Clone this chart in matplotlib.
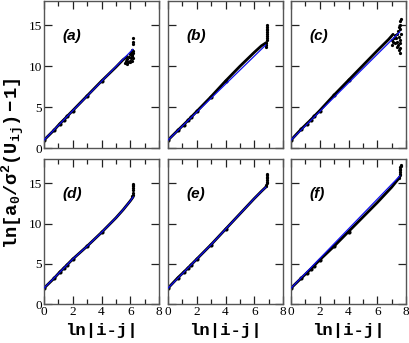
import matplotlib
matplotlib.use("Agg")
import matplotlib.pyplot as plt
from matplotlib.ticker import MultipleLocator

plt.rcParams['mathtext.fontset'] = 'custom'
plt.rcParams['mathtext.rm'] = 'Liberation Mono:bold'
plt.rcParams['mathtext.it'] = 'Liberation Mono:bold'
plt.rcParams['mathtext.bf'] = 'Liberation Mono:bold'

labels = ['(a)', '(b)', '(c)', '(d)', '(e)', '(f)']

# black data (dense points)
data_x = [
    [0, 0.69, 1.10, 1.39, 1.61, 2.0, 3.0, 4.0, 5.0, 5.5, 5.8],
    [0, 0.69, 1.10, 1.39, 1.61, 2.0, 3.0, 4.0, 5.0, 6.0, 6.5, 6.85],
    [0, 0.69, 1.10, 1.39, 1.61, 2.0, 3.0, 4.0, 5.0, 6.0, 6.8, 7.1],
    [0, 0.69, 1.10, 1.39, 1.61, 2.0, 3.0, 4.0, 5.0, 5.5, 6.0, 6.2],
    [0, 0.69, 1.10, 1.39, 1.61, 2.0, 3.0, 4.0, 5.0, 6.0, 6.5, 6.85],
    [0, 0.69, 1.10, 1.39, 1.61, 2.0, 3.0, 4.0, 5.0, 6.0, 7.0, 7.5],
]
data_y = [
    [1.0, 2.2, 3.0, 3.5, 3.9, 4.6, 6.4, 8.2, 9.9, 10.8, 11.2],
    [1.0, 2.2, 2.9, 3.4, 3.8, 4.5, 6.3, 8.2, 10.0, 11.7, 12.5, 12.9],
    [1.0, 2.3, 3.0, 3.5, 3.9, 4.6, 6.5, 8.3, 10.1, 11.9, 13.3, 13.9],
    [2.0, 3.2, 4.0, 4.5, 4.9, 5.6, 7.2, 8.9, 10.7, 11.7, 12.8, 13.3],
    [2.0, 3.3, 4.0, 4.5, 4.9, 5.6, 7.4, 9.3, 11.2, 13.1, 14.0, 14.6],
    [2.0, 3.2, 3.9, 4.4, 4.8, 5.5, 7.2, 9.0, 10.8, 12.6, 14.5, 15.6],
]
# noisy tail points
tail_x = [
    [5.6, 5.7, 5.75, 5.8, 5.85, 5.9, 5.95, 6.0, 6.0, 6.05, 6.05, 6.1, 6.1, 6.12,
     6.15, 6.15, 6.18, 6.2, 6.2, 6.2, 6.22, 6.22],
    [6.84, 6.85, 6.85, 6.86, 6.86, 6.87, 6.87, 6.88, 6.88, 6.89, 6.9, 6.9],
    [7.0, 7.05, 7.1, 7.15, 7.2, 7.25, 7.3, 7.35, 7.4, 7.4, 7.45, 7.45, 7.5, 7.5,
     7.5, 7.55, 7.55, 7.55, 7.6, 7.6, 7.6, 7.6, 7.62, 7.62],
    [6.15, 6.16, 6.17, 6.18, 6.19, 6.2, 6.2, 6.21],
    [6.84, 6.85, 6.86, 6.87, 6.88, 6.88, 6.89, 6.9, 6.9],
    [7.5, 7.53, 7.55, 7.57, 7.58, 7.6, 7.6, 7.61, 7.62, 7.63],
]
tail_y = [
    [10.4, 10.6, 10.3, 10.9, 10.5, 11.1, 10.7, 11.5, 10.5, 11.8, 11.0, 10.7, 12.0,
     11.4, 11.3, 11.9, 11.6, 11.0, 11.9, 12.7, 13.0, 13.4],
    [12.3, 12.6, 12.9, 13.2, 13.5, 13.7, 13.9, 14.2, 14.4, 14.6, 14.8, 15.0],
    [12.6, 13.2, 13.0, 13.5, 12.8, 13.8, 13.4, 12.4, 14.0, 13.0, 14.3, 12.6, 14.8,
     12.0, 13.6, 15.0, 13.2, 12.2, 11.6, 12.8, 14.5, 15.5, 15.8, 14.0],
    [13.4, 13.6, 13.8, 14.1, 14.4, 14.6, 14.8, 14.9],
    [14.6, 14.8, 15.0, 15.2, 15.4, 15.6, 15.8, 16.0, 16.1],
    [15.6, 15.8, 16.0, 16.2, 16.4, 16.6, 16.8, 17.0, 17.1, 17.2],
]
# blue fit curves
fit_x = [
    [0, 6.18],
    [0, 6.8],
    [0, 7.57],
    [0, 1.0, 2.0, 3.0, 4.0, 5.0, 5.5, 6.0, 6.2],
    [0, 1.0, 2.0, 3.0, 4.0, 5.0, 6.0, 6.5, 6.8],
    [0, 7.57],
]
fit_y = [
    [1.0, 12.07],
    [1.0, 12.6],
    [1.0, 14.2],
    [2.0, 3.8, 5.6, 7.2, 8.9, 10.7, 11.7, 12.8, 13.3],
    [2.0, 3.8, 5.6, 7.4, 9.3, 11.2, 13.1, 14.0, 14.5],
    [2.0, 15.9],
]

xticks = [0, 2, 4, 6, 8]
yticks = [0, 5, 10, 15]

W, H = 409, 343
fig = plt.figure(figsize=(W / 100, H / 100), dpi=100)

lefts = [44, 168, 291]
pw = 115
tops = [(0.7, 148.3), (159, 304.3)]

for k in range(6):
    r, c = divmod(k, 3)
    t, b = tops[r]
    ax = fig.add_axes([lefts[c] / W, 1 - b / H, pw / W, (b - t) / H])
    ax.plot(data_x[k], data_y[k], color='black', lw=2.0, solid_capstyle='round', zorder=2)
    ax.plot(data_x[k][:8], data_y[k][:8], 'o', color='black', ms=2.0, zorder=2)
    ax.plot(tail_x[k], tail_y[k], 'o', color='black', ms=1.3, zorder=2)
    ax.plot(fit_x[k], fit_y[k], color='#1010ee', lw=0.9, zorder=3)
    ax.set_xlim(0, 8)
    ax.set_ylim(0, 18)
    ax.set_xticks(xticks)
    ax.set_yticks(yticks)
    ax.xaxis.set_minor_locator(MultipleLocator(1))
    ax.tick_params(which='both', direction='in', top=True, right=True,
                   labelsize=9.5, pad=1.5, color='#222222')
    ax.tick_params(which='major', length=6, width=0.9)
    ax.tick_params(which='minor', length=3.5, width=0.9)
    for lab in ax.get_xticklabels() + ax.get_yticklabels():
        lab.set_fontfamily('Liberation Serif')
    if c != 0:
        ax.set_yticklabels([])
    if r == 0:
        ax.set_xticklabels([])
    for s in ax.spines.values():
        s.set_linewidth(1.0)
        s.set_color('#555555')
    ax.text(1.25, 13.7, labels[k], fontsize=11, fontweight='bold', fontstyle='italic',
            family='Liberation Sans', va='center', ha='left')
    if r == 1:
        ax.set_xlabel('ln|i-j|', fontsize=12.5, fontweight='bold', family='Liberation Mono',
                      labelpad=3)

fig.text(13 / W, 1 - 163 / H, r'$\mathrm{ln[a_0/σ^2(U_{ij})-1]}$', rotation=90,
         fontsize=13.5, ha='center', va='center')

fig.savefig('out.png', dpi=100)
